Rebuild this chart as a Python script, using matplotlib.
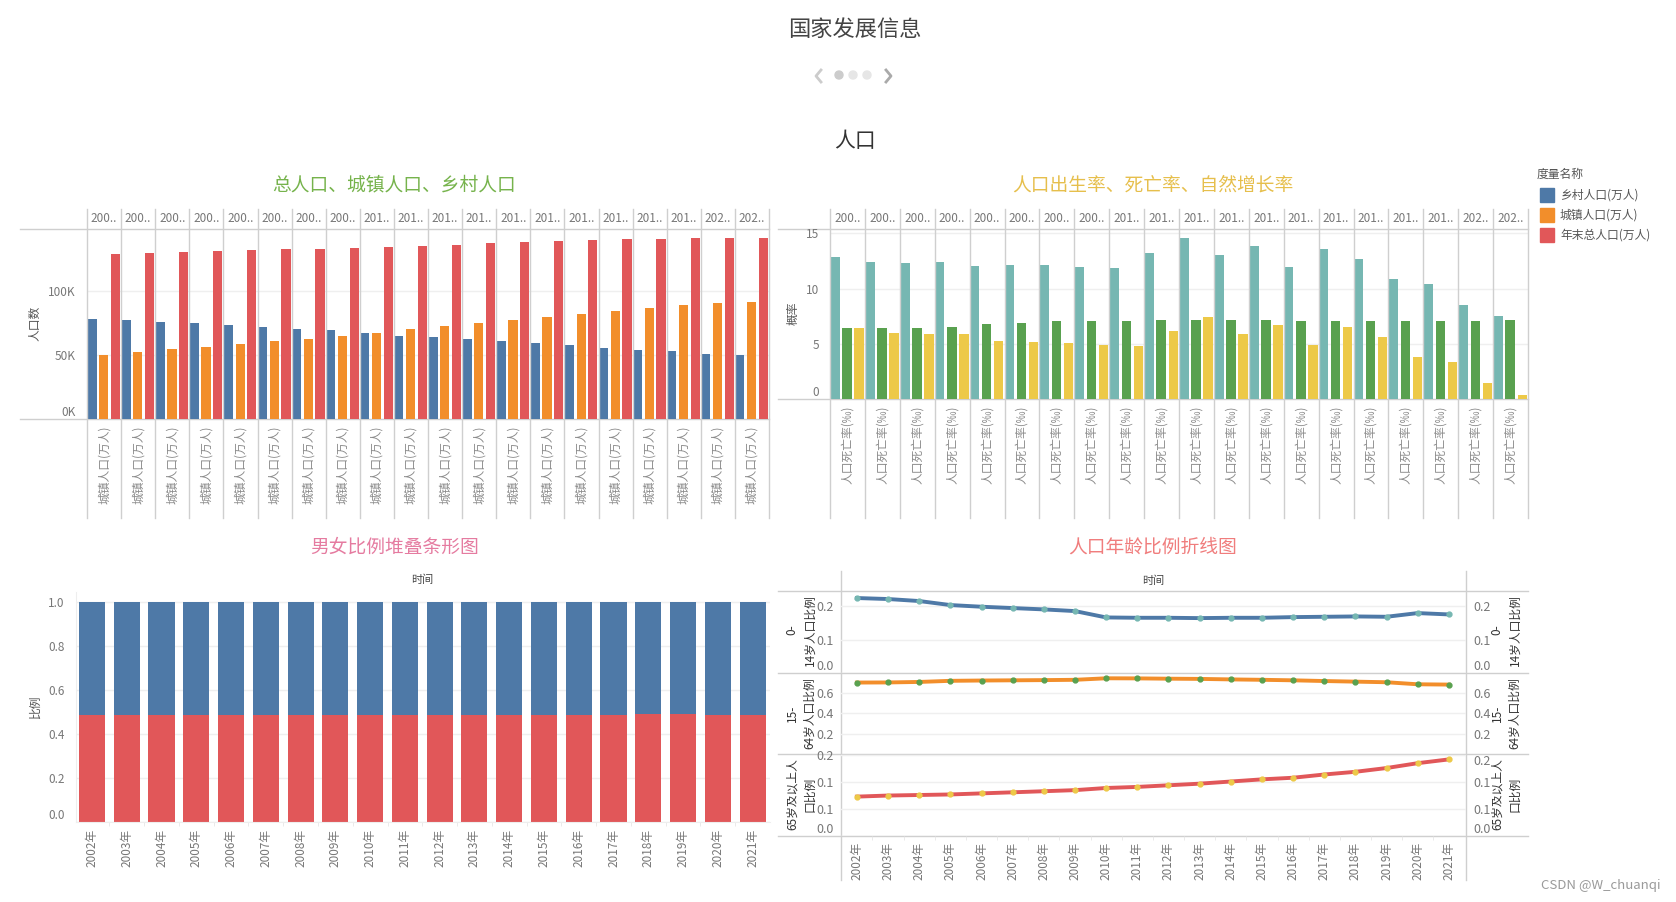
import numpy as np
import matplotlib
matplotlib.use('Agg')
import matplotlib.pyplot as plt
from matplotlib.patches import Rectangle, Circle

plt.rcParams['font.family'] = ['Noto Sans CJK SC', 'DejaVu Sans']

# ---- data ----
years = list(range(2002, 2022))
year_heads = ['200..'] * 8 + ['201..'] * 10 + ['202..'] * 2
year_ticks = [f'{y}年' for y in years]

rural = [78241, 76851, 75705, 74544, 73160, 71496, 70399, 68938, 67113, 64989,
         63747, 62224, 60908, 59024, 57308, 55668, 54108, 52582, 50992, 49835]
urban = [50212, 52376, 54283, 56212, 58288, 60633, 62403, 64512, 66978, 69927,
         72175, 74502, 76738, 79302, 81924, 84343, 86433, 88426, 90220, 91425]
total = [128453, 129227, 129988, 130756, 131448, 132129, 132802, 133450, 134091, 134916,
         135922, 136726, 137646, 138326, 139232, 140011, 140541, 141008, 141212, 141260]

birth = [12.86, 12.41, 12.29, 12.40, 12.09, 12.10, 12.14, 11.95, 11.90, 13.27,
         14.57, 13.03, 13.83, 11.99, 13.57, 12.64, 10.86, 10.41, 8.52, 7.52]
death = [6.41, 6.40, 6.42, 6.51, 6.81, 6.93, 7.06, 7.08, 7.11, 7.14,
         7.13, 7.13, 7.12, 7.11, 7.09, 7.11, 7.08, 7.09, 7.07, 7.18]
growth = [6.45, 6.01, 5.87, 5.89, 5.28, 5.17, 5.08, 4.87, 4.79, 6.13,
          7.43, 5.90, 6.71, 4.93, 6.53, 5.58, 3.78, 3.32, 1.45, 0.34]

female = [0.486, 0.486, 0.486, 0.486, 0.486, 0.486, 0.486, 0.486, 0.486, 0.486,
          0.486, 0.486, 0.486, 0.486, 0.486, 0.486, 0.491, 0.491, 0.486, 0.486]
male = [1 - f for f in female]

age0_14 = [0.224, 0.221, 0.215, 0.203, 0.198, 0.194, 0.190, 0.185, 0.166, 0.165,
           0.165, 0.164, 0.165, 0.165, 0.167, 0.168, 0.169, 0.168, 0.179, 0.175]
age15_64 = [0.703, 0.704, 0.709, 0.720, 0.723, 0.725, 0.727, 0.730, 0.745, 0.744,
            0.741, 0.739, 0.734, 0.730, 0.725, 0.718, 0.712, 0.706, 0.686, 0.683]
age65 = [0.073, 0.075, 0.076, 0.077, 0.079, 0.081, 0.083, 0.085, 0.089, 0.091,
         0.094, 0.097, 0.101, 0.105, 0.108, 0.114, 0.119, 0.126, 0.135, 0.142]

pop_names = ['乡村人口(万人)', '城镇人口(万人)', '年末总人口(万人)']
age_names = ['0-\n14岁人口比例', '15-\n64岁人口比例', '65岁及以上人\n口比例']

BLUE, ORANGE, RED = '#4e79a7', '#f28e2b', '#e15759'
TEAL, GREEN, YELLOW = '#76b7b2', '#59a14f', '#edc948'
SEP = '#cfcfcf'
GRID = '#efefef'
TXT = '#777777'

W, H = 1676, 902
fig = plt.figure(figsize=(W / 100, H / 100), dpi=100)

bg = fig.add_axes([0, 0, 1, 1])
bg.set_xlim(0, W)
bg.set_ylim(H, 0)
bg.axis('off')


def add_ax(x0, y0, x1, y1):
    a = fig.add_axes([x0 / W, 1 - y1 / H, (x1 - x0) / W, (y1 - y0) / H])
    a.set_facecolor('none')
    for s in a.spines.values():
        s.set_visible(False)
    a.tick_params(length=0, colors=TXT, labelsize=8.5)
    return a


# ---- headings ----
bg.text(855, 29, '国家发展信息', ha='center', va='center', fontsize=16, color='#444444')
bg.plot([821, 816, 821], [70, 76, 82], color='#cccccc', lw=2)
bg.plot([886, 891, 886], [70, 76, 82], color='#aaaaaa', lw=2)
for cx, c in zip([839, 853, 867], ['#cccccc', '#e6e6e6', '#e6e6e6']):
    bg.add_patch(Circle((cx, 75), 4, color=c))
bg.text(855, 141, '人口', ha='center', va='center', fontsize=15, color='#333333')

bg.text(394, 185, '总人口、城镇人口、乡村人口', ha='center', va='center', fontsize=13.5, color='#76b34c')
bg.text(1153, 185, '人口出生率、死亡率、自然增长率', ha='center', va='center', fontsize=13.5, color='#e6bf4c')
bg.text(395, 547, '男女比例堆叠条形图', ha='center', va='center', fontsize=13.5, color='#e57ba0')
bg.text(1153, 547, '人口年龄比例折线图', ha='center', va='center', fontsize=13.5, color='#f07d7d')

n = len(years)
idx = np.arange(n)


def grouped(ax, series, colors, ymax, top, bottom, label):
    for j, (vals, col) in enumerate(zip(series, colors)):
        ax.bar(idx + 0.145 + j * 0.345, vals, width=0.27, color=col, zorder=2)
    ax.set_xlim(0, n)
    ax.set_ylim(0, ymax)
    ax.set_xticks([])
    ax.grid(axis='y', color=GRID, lw=1, zorder=0)
    tr = ax.get_xaxis_transform()
    hgt = ax.get_position().height * H
    up = 1 + top / hgt
    down = -bottom / hgt
    for i in range(n + 1):
        ax.plot([i, i], [up, down], transform=tr, clip_on=False, color=SEP, lw=1)
    for i in range(n):
        ax.text(i + 0.5, 1 + top / hgt / 2, year_heads[i], transform=tr, ha='center',
                va='center', fontsize=8.5, color=TXT)
        ax.text(i + 0.5, -6 / hgt, label, transform=tr, ha='center', va='top',
                rotation=90, fontsize=8.5, color='#8a8a8a')


# ---- top-left: population ----
ax1 = add_ax(87, 229, 769, 419)
grouped(ax1, [rural, urban, total], [BLUE, ORANGE, RED], 148000, 20, 99, '城镇人口(万人)')
ax1.set_yticks([0, 50000, 100000])
ax1.set_yticklabels(['0K', '50K', '100K'])
ax1.get_yticklabels()[0].set_va('bottom')
ax1.tick_params(axis='y', pad=8)
for y in (229, 419):
    bg.plot([20, 769], [y, y], color=SEP, lw=1)
bg.text(35, 323, '人口数', rotation=90, ha='center', va='center', fontsize=8.5, color='#555555')

# ---- top-right: rates ----
ax2 = add_ax(830, 229, 1528, 399)
grouped(ax2, [birth, death, growth], [TEAL, GREEN, YELLOW], 15.4, 20, 119, '人口死亡率(‰)')
ax2.set_yticks([0, 5, 10, 15])
ax2.get_yticklabels()[0].set_va('bottom')
ax2.tick_params(axis='y', pad=8)
for y in (229, 399):
    bg.plot([778, 1528], [y, y], color=SEP, lw=1)
bg.text(793, 313, '概率', rotation=90, ha='center', va='center', fontsize=8.5, color='#555555')

# ---- legend ----
bg.text(1537, 174, '度量名称', ha='left', va='center', fontsize=8.5, color='#555555')
for k, (name, col) in enumerate(zip(pop_names, [BLUE, ORANGE, RED])):
    yc = 195 + 20 * k
    bg.add_patch(Rectangle((1540, yc - 7), 14, 14, color=col))
    bg.text(1560, yc, name, ha='left', va='center', fontsize=8.5, color='#555555')

# ---- bottom-left: sex ratio ----
ax3 = add_ax(76, 592, 770, 822)
ax3.bar(idx, female, width=0.75, color=RED, zorder=2)
ax3.bar(idx, male, width=0.75, bottom=female, color=BLUE, zorder=2)
ax3.set_xlim(-0.46, n - 0.5)
ax3.set_ylim(0, 1.045)
ax3.set_yticks(np.arange(0, 1.01, 0.2))
ax3.set_yticklabels([f'{v:.1f}' for v in np.arange(0, 1.01, 0.2)])
ax3.get_yticklabels()[0].set_va('bottom')
ax3.grid(axis='y', color=GRID, lw=1, zorder=0)
ax3.set_xticks(idx)
ax3.set_xticklabels(year_ticks, rotation=90, fontsize=8.5)
ax3.tick_params(axis='x', pad=5)
ax3.tick_params(axis='y', pad=8)
ax3.set_xticks(idx[:-1] + 0.5, minor=True)
ax3.tick_params(axis='x', which='minor', length=3, color='#e6e6e6')
ax3.spines['left'].set_visible(True)
ax3.spines['left'].set_color('#eeeeee')
ax3.spines['bottom'].set_visible(True)
ax3.spines['bottom'].set_color('#eeeeee')
bg.text(422, 580, '时间', ha='center', va='center', fontsize=8, color='#444444')
bg.text(35, 706, '比例', rotation=90, ha='center', va='center', fontsize=8.5, color='#555555')

# ---- bottom-right: age structure ----
rows = [(591, 673), (673, 754), (754, 836)]
series = [age0_14, age15_64, age65]
lcols = [BLUE, ORANGE, RED]
mcols = [TEAL, GREEN, YELLOW]
ylims = [0.245, 0.797, 0.152]
yticks = [[0, 0.1, 0.2], [0.2, 0.4, 0.6], [0, 0.05, 0.10, 0.15]]
ylabs = [['0.0', '0.1', '0.2'], ['0.2', '0.4', '0.6'], ['0.0', '0.1', '0.1', '0.2']]
label_y = [630, 713, 794]

for k, (t, b) in enumerate(rows):
    ax = add_ax(841, t, 1466, b)
    ax.plot(idx, series[k], color=lcols[k], lw=2.8, zorder=3)
    ax.plot(idx, series[k], 'o', color=mcols[k], ms=3.5, zorder=4)
    ax.set_xlim(-0.51, 19.55)
    ax.set_ylim(0, ylims[k])
    ax.set_yticks(yticks[k])
    ax.set_yticklabels(ylabs[k])
    ax.tick_params(axis='y', labelleft=True, labelright=True, pad=5, labelsize=9)
    ax.grid(axis='y', color=GRID, lw=1, zorder=0)
    if yticks[k][0] == 0:
        for lab in ax.get_yticklabels():
            if lab.get_text() == '0.0':
                lab.set_va('bottom')
    if k == 2:
        ax.get_yticklabels()[-1].set_va('top')
        ax.set_xticks(idx)
        ax.set_xticklabels(year_ticks, rotation=90, fontsize=8.5)
        ax.tick_params(axis='x', pad=4)
        ax.set_xticks(idx[:-1] + 0.5, minor=True)
        ax.tick_params(axis='x', which='minor', length=3, color='#e6e6e6')
    else:
        ax.set_xticks([])
    for xc in (801, 1506):
        bg.text(xc, label_y[k], age_names[k], rotation=90, ha='center', va='center',
                multialignment='center', fontsize=8.5, color='#333333', linespacing=1.5)

for y in (591, 673, 754, 836):
    bg.plot([778, 1528], [y, y], color=SEP, lw=1)
for x in (841, 1466):
    bg.plot([x, x], [571, 880], color=SEP, lw=1)
bg.text(1153, 581, '时间', ha='center', va='center', fontsize=8, color='#444444')

bg.text(1661, 885, 'CSDN @W_chuanqi', ha='right', va='center', fontsize=9.5, color='#9a9a9a')

fig.savefig('out.png', dpi=100)
